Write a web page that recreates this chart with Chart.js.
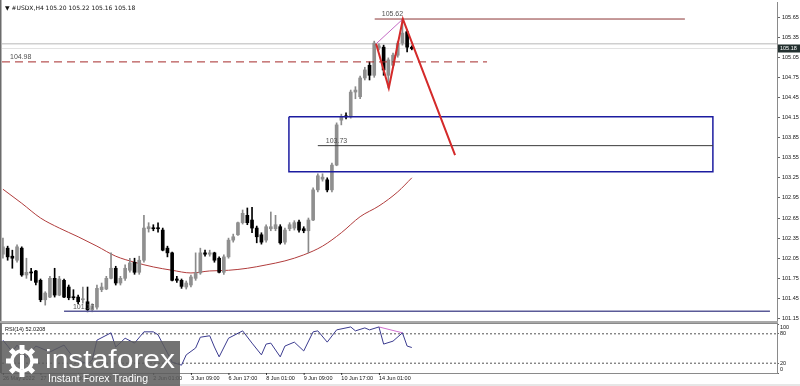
<!DOCTYPE html>
<html>
<head>
<meta charset="utf-8">
<script src="https://cdn.jsdelivr.net/npm/chart.js@4.4.0/dist/chart.umd.min.js"></script>
<style>
  html, body { margin: 0; padding: 0; background: #fff; }
  #wrap { position: relative; width: 800px; height: 386px; overflow: hidden; background: #fff; }
  #main { position: absolute; left: 0; top: 0; }
  #rsi { position: absolute; left: 0; top: 323px; }
</style>
</head>
<body>
<div id="wrap">
  <canvas id="main" width="800" height="323"></canvas>
  <canvas id="rsi" width="800" height="63"></canvas>
</div>
<script>
// USDX H4 candles (one per bar, oldest first)
const candleOpen = [102.11,102.20,102.08,102.02,102.20,101.80,101.84,101.86,101.72,101.43,
  101.47,101.75,101.50,101.72,101.62,101.47,101.47,101.43,101.40,101.28,
  101.32,101.58,101.59,101.75,101.90,101.68,101.75,101.87,101.99,101.84,
  102.02,102.49,102.50,102.50,102.47,102.20,102.13,101.74,101.72,101.62,
  101.65,101.75,101.83,102.13,102.11,102.13,102.05,101.84,102.07,102.32,
  102.40,102.58,102.69,102.62,102.50,102.40,102.32,102.49,102.49,102.52,
  102.29,102.49,102.50,102.59,102.49,102.46,102.62,103.07,103.23,103.22,
  103.07,103.44,104.11,104.17,104.16,104.53,104.46,104.74,104.93,104.78,
  105.19,105.20,104.78,104.93,105.08,105.26,105.43,105.20]
const candleHigh = [102.35,102.23,102.17,102.25,102.22,102.05,101.90,101.87,101.74,101.55,
  101.78,101.90,101.78,101.74,101.65,101.58,101.50,101.62,101.62,101.37,
  101.65,101.68,101.78,102.13,101.93,101.78,101.95,102.05,102.05,102.08,
  102.69,102.58,102.55,102.58,102.50,102.23,102.14,101.78,101.74,101.71,
  101.80,102.13,102.20,102.17,102.17,102.14,102.07,102.10,102.35,102.41,
  102.59,102.77,102.80,102.81,102.53,102.43,102.55,102.74,102.69,102.55,
  102.50,102.58,102.61,102.62,102.52,102.65,103.10,103.31,103.31,103.25,
  103.47,104.07,104.20,104.22,104.56,104.61,104.77,104.90,104.98,105.29,
  105.25,105.23,105.04,105.11,105.29,105.62,105.46,105.22]
const candleLow = [102.05,102.02,101.90,101.99,101.78,101.75,101.72,101.65,101.40,101.35,
  101.46,101.47,101.49,101.46,101.43,101.43,101.37,101.38,101.25,101.25,
  101.29,101.55,101.58,101.74,101.65,101.65,101.72,101.84,101.81,101.81,
  101.99,102.44,102.46,102.44,102.16,102.07,101.71,101.69,101.60,101.59,
  101.62,101.72,101.81,102.08,102.08,101.99,101.83,101.81,102.05,102.29,
  102.39,102.56,102.55,102.43,102.28,102.26,102.29,102.46,102.46,102.26,
  102.26,102.46,102.47,102.44,102.43,102.13,102.61,103.04,103.20,103.04,
  103.04,103.43,104.04,104.13,104.14,104.43,104.43,104.71,104.71,104.75,
  105.16,104.78,104.59,104.92,105.05,105.23,105.13,105.16]
const candleClose = [102.22,102.07,102.05,102.22,101.80,101.84,101.83,101.69,101.43,101.53,
  101.75,101.50,101.74,101.47,101.46,101.46,101.40,101.44,101.28,101.34,
  101.60,101.62,101.75,101.90,101.68,101.75,101.90,101.98,101.84,102.02,
  102.50,102.52,102.49,102.49,102.17,102.13,101.72,101.72,101.63,101.68,
  101.77,101.83,102.13,102.11,102.13,102.02,101.84,102.07,102.32,102.37,
  102.58,102.72,102.58,102.50,102.37,102.29,102.52,102.52,102.55,102.28,
  102.47,102.55,102.58,102.47,102.46,102.62,103.07,103.28,103.26,103.07,
  103.44,104.04,104.16,104.16,104.53,104.56,104.74,104.86,104.78,105.26,
  105.22,104.86,105.01,105.08,105.26,105.41,105.20,105.18]

// moving average (red curve), read at some bars
const maIndex = [0,4,8,12,16,20,24,28,32,36,40,44,48,52,56,60,64,68,72,76,80,84,87]
const maValue = [103.08,102.87,102.65,102.50,102.37,102.23,102.08,101.99,101.92,101.87,101.83,101.86,
  101.87,101.90,101.95,102.01,102.10,102.23,102.43,102.67,102.83,103.04,103.25]

// RSI(14) turning points
const rsiIndex = [0,2,3,5,7,10,13,15,18,19,20,23,24,26,28,30,32,33,35,36,38,39,41,42,44,45,46,48,51,53,
  55,56,57,59,60,62,64,66,67,69,71,74,75,77,78,80,81,83,85,86,87]
const rsiValue = [67,43,57,31,55,43,57,31,18,27,67,82,53,71,61,84,84,78,41,22,16,37,51,73,76,53,33,71,86,61,
  37,59,61,33,55,63,45,84,86,63,88,94,86,92,88,94,59,65,82,55,52.02]

// drawn objects
const zigzagIndex = [79.4, 82.1, 85.1, 96.2]
const zigzagPrice = [105.25, 104.59, 105.62, 103.59]
const zoneIndex = [60.85, 151.06]
const zonePrice = [104.16, 103.34]

// axes
const priceTicks = [105.65,105.35,105.05,104.75,104.45,104.15,103.85,103.55,103.25,102.95,102.65,102.35,102.05,101.75,101.45,101.15]
const rsiTicks = [0, 20, 80, 100]
const timeTickIndex = [0, 8, 16, 24, 32, 40, 48, 56, 64, 72, 80]
const timeLabels = ['26 May 2022','27 May 01:00','30 May 09:00','31 May 17:00','2 Jun 01:00','3 Jun 09:00',
  '6 Jun 17:00','8 Jun 01:00','9 Jun 09:00','10 Jun 17:00','14 Jun 01:00']

const xMin = -0.2, xMax = 164.7
const tickFont = { family: 'Liberation Sans', size: 5.5 }

const seg = (x0, x1, v) => [{ x: x0, y: v }, { x: x1, y: v }]
function lineSet(data, color, width, extra) {
  return Object.assign({ type: 'line', data: data, borderColor: color, borderWidth: width,
    pointRadius: 0, fill: false, tension: 0, order: 1 }, extra || {})
}
// no extra room for the first / last tick label
function noPad(s) { s.paddingTop = 0; s.paddingBottom = 0; s.paddingLeft = 0; s.paddingRight = 0 }

const bodyData = candleOpen.map((o, i) => ({ x: i, y: [o, candleClose[i]] }))
const wickData = candleLow.map((l, i) => ({ x: i, y: [l, candleHigh[i]] }))
const isUp = candleOpen.map((o, i) => candleClose[i] >= o)
const maData = maIndex.map((ix, k) => ({ x: ix, y: maValue[k] }))
const zigzag = zigzagIndex.map((ix, k) => ({ x: ix, y: zigzagPrice[k] }))
const zone = [
  { x: zoneIndex[0], y: zonePrice[0] }, { x: zoneIndex[1], y: zonePrice[0] },
  { x: zoneIndex[1], y: zonePrice[1] }, { x: zoneIndex[0], y: zonePrice[1] },
  { x: zoneIndex[0], y: zonePrice[0] }]

const mainDecor = {
  id: 'mainDecor',
  afterDraw(chart) {
    const { ctx, scales: { x, y }, chartArea: a } = chart
    ctx.save()
    ctx.fillStyle = '#6b6b6b'
    ctx.fillRect(0, 0, 1.5, chart.height)
    ctx.fillStyle = '#a9a9a9'
    ctx.fillRect(0, chart.height - 2, a.right + 1, 2)

    ctx.fillStyle = '#111'
    ctx.font = '6px "DejaVu Sans"'
    ctx.textBaseline = 'middle'
    ctx.fillText('\u25BC #USDX,H4 105.20 105.22 105.16 105.18', 5, 8)

    ctx.font = '7px "Liberation Sans"'
    ctx.fillStyle = '#505050'
    ctx.textBaseline = 'alphabetic'
    ctx.fillText('105.62', x.getPixelForValue(80.6), y.getPixelForValue(105.62) - 3)
    ctx.fillText('104.98', x.getPixelForValue(1.5), y.getPixelForValue(104.98) - 3)
    ctx.fillText('103.73', x.getPixelForValue(68.7), y.getPixelForValue(103.73) - 3)
    ctx.fillText('101.17', x.getPixelForValue(14.9), y.getPixelForValue(101.26) - 2)

    // current price tag
    const py = y.getPixelForValue(105.18)
    ctx.fillStyle = '#23302f'
    ctx.fillRect(a.right + 1, py - 4, 22, 8)
    ctx.fillStyle = '#fff'
    ctx.font = '5.5px "Liberation Sans"'
    ctx.textBaseline = 'middle'
    ctx.fillText('105.18', a.right + 3, py)
    ctx.restore()
  }
}

new Chart(document.getElementById('main'), {
  type: 'bar',
  data: {
    datasets: [
      { type: 'bar', data: wickData, backgroundColor: isUp.map(u => u ? '#8a8a8a' : '#000'),
        barThickness: 1, grouped: false, order: 3 },
      { type: 'bar', data: bodyData, backgroundColor: isUp.map(u => u ? '#8f8f8f' : '#000'),
        barThickness: 3, grouped: false, minBarLength: 1, order: 2 },
      lineSet(maData, '#b03c3c', 1, { cubicInterpolationMode: 'monotone', order: 4 }),
      lineSet(seg(xMin, xMax, 105.25), '#cfcfcf', 1.5, { order: 5 }),
      lineSet(seg(xMin, xMax, 105.18), '#e2e2e2', 1, { order: 5 }),
      lineSet(seg(79.1, 145.1, 105.62), '#8b3434', 1),
      lineSet(seg(xMin, 103, 104.98), '#a52a2a', 1, { borderDash: [8, 5] }),
      lineSet(seg(67, 151.06, 103.73), '#3a3a3a', 1),
      lineSet(seg(13, 163.2, 101.26), '#5a5a98', 1.5),
      lineSet(zone, '#1c1ca0', 1.5),
      lineSet([zigzag[0], zigzag[2]], '#c46ac4', 1),
      lineSet(zigzag, '#d42a2a', 2, { order: 0 })
    ]
  },
  options: {
    responsive: false,
    animation: false,
    layout: { padding: { left: 2, top: 2, bottom: 2, right: 0 } },
    plugins: { legend: { display: false }, tooltip: { enabled: false } },
    scales: {
      x: { type: 'linear', min: xMin, max: xMax, offset: false, display: false },
      y: {
        position: 'right', min: 101.113, max: 105.874, beginAtZero: false,
        afterBuildTicks: s => { s.ticks = priceTicks.map(v => ({ value: v })) },
        afterFit: s => { s.width = 23; noPad(s) },
        grid: { display: true, drawOnChartArea: false, tickLength: 3, color: '#666' },
        border: { display: true, color: '#8a8a8a' },
        ticks: { font: tickFont, color: '#111', padding: 2, callback: v => v.toFixed(2) }
      }
    }
  },
  plugins: [mainDecor]
})

const rsiDecor = {
  id: 'rsiDecor',
  afterDraw(chart) {
    const { ctx, chartArea: a, scales: { x, y } } = chart
    ctx.save()
    ctx.fillStyle = '#a9a9a9'
    ctx.fillRect(0, 0, a.right + 1, 1)
    ctx.strokeStyle = '#8a8a8a'
    ctx.lineWidth = 1
    ctx.strokeRect(a.left - 0.5, a.top - 0.5, a.right - a.left + 1, a.bottom - a.top + 1)
    ctx.fillStyle = '#6b6b6b'
    ctx.fillRect(0, 0, 1.5, a.bottom)

    ctx.fillStyle = '#111'
    ctx.font = '5.5px "Liberation Sans"'
    ctx.textBaseline = 'middle'
    ctx.fillText('RSI(14) 52.0208', 5, 6)

    // level labels on the right, pulled inside the panel like the terminal does
    ctx.textAlign = 'left'
    rsiTicks.forEach(v => {
      let py = y.getPixelForValue(v)
      if (v === 100) py += 3
      if (v === 0) py -= 4
      ctx.fillText(String(v), a.right + 3, py)
    })

    // time labels, starting at their bar
    ctx.textBaseline = 'top'
    timeTickIndex.forEach((ix, k) => {
      const px = x.getPixelForValue(ix)
      ctx.fillRect(px, a.bottom, 0.8, 2)
      ctx.fillText(timeLabels[k], px, a.bottom + 3)
    })

    ctx.fillStyle = '#e6e6e6'
    ctx.fillRect(0, chart.height - 2, chart.width, 2)

    // instaforex watermark
    ctx.fillStyle = 'rgba(92,92,92,0.86)'
    ctx.fillRect(0, 18, 180, 45)
    ctx.fillStyle = '#fff'
    ctx.strokeStyle = '#fff'
    ctx.lineWidth = 3.5
    ctx.beginPath()
    ctx.arc(22, 38, 10, 0, Math.PI * 2)
    ctx.stroke()
    ctx.save()
    ctx.translate(22, 38)
    for (let k = 0; k < 8; k++) {
      ctx.rotate(Math.PI / 4)
      ctx.fillRect(-2.5, -16, 5, 5)
    }
    ctx.restore()
    ctx.fillRect(20, 32, 4, 14)
    ctx.beginPath()
    ctx.arc(22, 29, 2.5, 0, Math.PI * 2)
    ctx.fill()

    ctx.textBaseline = 'alphabetic'
    ctx.font = '25px "Liberation Sans"'
    let t = 'instaforex'
    let w = ctx.measureText(t).width
    ctx.save()
    ctx.translate(45, 45)
    ctx.scale(130 / w, 1)
    ctx.fillText(t, 0, 0)
    ctx.restore()
    ctx.font = '11px "Liberation Sans"'
    t = 'Instant Forex Trading'
    w = ctx.measureText(t).width
    ctx.save()
    ctx.translate(48, 59)
    ctx.scale(100 / w, 1)
    ctx.fillText(t, 0, 0)
    ctx.restore()
    ctx.restore()
  }
}

new Chart(document.getElementById('rsi'), {
  type: 'line',
  data: {
    datasets: [
      lineSet(seg(xMin, xMax, 80), '#555', 1, { borderDash: [2, 2] }),
      lineSet(seg(xMin, xMax, 20), '#555', 1, { borderDash: [2, 2] }),
      lineSet(rsiIndex.map((ix, k) => ({ x: ix, y: rsiValue[k] })), '#3b3b8f', 1, { order: 0 }),
      lineSet([{ x: 80, y: 94 }, { x: 85, y: 82 }], '#d070d0', 1, { order: 0 })
    ]
  },
  options: {
    responsive: false,
    animation: false,
    layout: { padding: { left: 2, top: 1, bottom: 13, right: 0 } },
    plugins: { legend: { display: false }, tooltip: { enabled: false } },
    scales: {
      x: { type: 'linear', min: xMin, max: xMax, offset: false, display: false },
      y: {
        position: 'right', min: 0, max: 100,
        afterBuildTicks: s => { s.ticks = rsiTicks.map(v => ({ value: v })) },
        afterFit: s => { s.width = 23; noPad(s) },
        grid: { display: true, drawOnChartArea: false, tickLength: 2, color: '#666' },
        border: { display: true, color: '#8a8a8a' },
        ticks: { display: false }
      }
    }
  },
  plugins: [rsiDecor]
})
</script>
</body>
</html>
